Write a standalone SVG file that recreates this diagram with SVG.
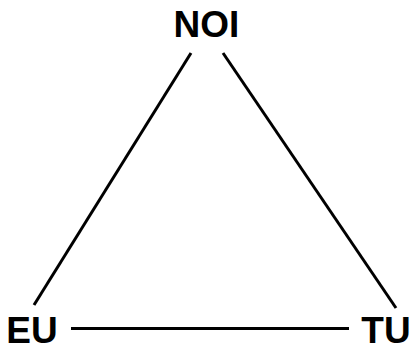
<svg xmlns="http://www.w3.org/2000/svg" width="412" height="345" viewBox="0 0 412 345">
<style>
.lbl{font-family:"Liberation Sans",Arial,sans-serif;font-weight:bold;font-size:37px;fill:#000}
.edge{stroke:#000;stroke-width:3;fill:none;stroke-linecap:butt}
</style>
<rect width="412" height="345" fill="#fff"/>
<g id="connectors">
<line class="edge" x1="191" y1="53" x2="34" y2="305"/>
<line class="edge" x1="223" y1="53" x2="396" y2="308"/>
<line class="edge" x1="71" y1="328.5" x2="349" y2="328.5"/>
</g>
<g id="NOI"><text class="lbl" x="206.5" y="37" text-anchor="middle">NOI</text></g>
<g id="EU"><text class="lbl" x="32" y="343" text-anchor="middle">EU</text></g>
<g id="TU"><text class="lbl" x="386" y="343" text-anchor="middle">TU</text></g>
</svg>
